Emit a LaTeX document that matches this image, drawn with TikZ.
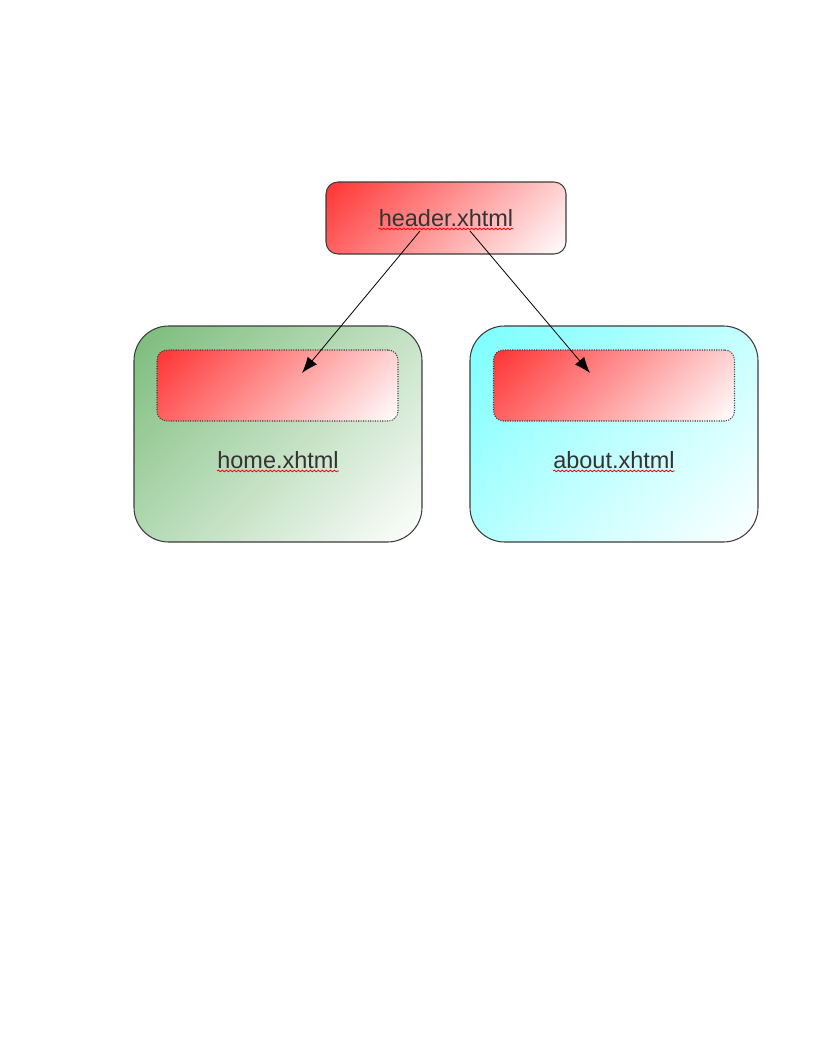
\documentclass[tikz,border=0pt]{standalone}
\usepackage{fontspec}
\setmainfont{Liberation Sans}
\usetikzlibrary{arrows.meta,decorations.pathmorphing}
\definecolor{hdrred}{RGB}{255,51,51}
\definecolor{homegreen}{RGB}{122,188,122}
\definecolor{aboutcyan}{RGB}{122,255,255}
\definecolor{edgegray}{RGB}{60,60,60}
\definecolor{txtgray}{RGB}{51,51,51}
% diagonal fades whose ramp spans the whole box from corner to corner
\pgfdeclareverticalshading{redfade}{100bp}{color(0bp)=(white); color(14.6bp)=(white); color(85.4bp)=(hdrred); color(100bp)=(hdrred)}
\pgfdeclareverticalshading{greenfade}{100bp}{color(0bp)=(white); color(14.6bp)=(white); color(85.4bp)=(homegreen); color(100bp)=(homegreen)}
\pgfdeclareverticalshading{cyanfade}{100bp}{color(0bp)=(white); color(14.6bp)=(white); color(85.4bp)=(aboutcyan); color(100bp)=(aboutcyan)}
\tikzset{
  redbox/.style={draw=edgegray, line width=0.8pt, shade, shading=redfade, shading angle=45},
  pagebox/.style={draw=edgegray, line width=0.8pt, rounded corners=26pt, minimum width=216pt, minimum height=162pt, shade, shading angle=45},
  slot/.style={draw=edgegray, densely dotted, line width=0.8pt, rounded corners=7.5pt, minimum width=180.75pt, minimum height=53.25pt, shade, shading=redfade, shading angle=45},
  label/.style={font=\fontsize{17.6pt}{20pt}\selectfont, text=txtgray, inner sep=0pt, anchor=base},
  spell/.style={draw=red, line width=0.6pt, decorate, decoration={snake, amplitude=0.6pt, segment length=3pt}},
  link/.style={draw=black, line width=0.6pt, -{Latex[length=12pt,width=9pt]}}
}
\begin{document}
\begin{tikzpicture}[x=0.75pt,y=-0.75pt]
  \useasboundingbox (0,0) rectangle (816,1056);
  % header fragment
  \node[redbox, rounded corners=9pt, minimum width=180pt, minimum height=54pt] (header) at (446,218) {};
  % pages
  \node[pagebox, shading=greenfade] (home) at (278,434) {};
  \node[pagebox, shading=cyanfade] (about) at (614,434) {};
  % included header slots
  \node[slot] (homeslot) at (277.5,385.5) {};
  \node[slot] (aboutslot) at (614,385.5) {};
  % labels
  \node[label] (headertxt) at (446,226) {header.xhtml};
  \node[label] (hometxt) at (278,468) {home.xhtml};
  \node[label] (abouttxt) at (614,468) {about.xhtml};
  % spell-check underlines
  \draw[spell] ([yshift=-2.2pt]headertxt.base west) -- ([yshift=-2.2pt]headertxt.base east);
  \draw[spell] ([yshift=-2.2pt]hometxt.base west) -- ([yshift=-2.2pt]hometxt.base east);
  \draw[spell] ([yshift=-2.2pt]abouttxt.base west) -- ([yshift=-2.2pt]abouttxt.base east);
  % inclusion arrows
  \coordinate (srcL) at (420,231);
  \coordinate (srcR) at (470,231);
  \coordinate (dstL) at (302,373);
  \coordinate (dstR) at (590,373);
  \draw[link] (srcL) -- (dstL);
  \draw[link] (srcR) -- (dstR);
\end{tikzpicture}
\end{document}
